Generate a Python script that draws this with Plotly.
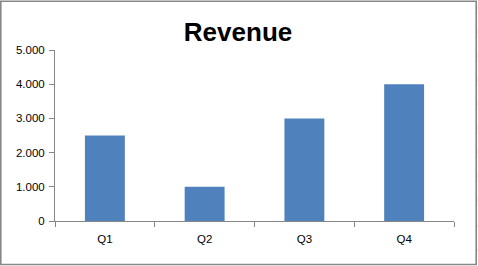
import plotly.graph_objects as go

categories = ["Q1", "Q2", "Q3", "Q4"]
revenue = [2500, 1000, 3000, 4000]
y_ticks = [0, 1000, 2000, 3000, 4000, 5000]

W, H = 478, 266
L, R, T, B = 55, 24, 50, 45
pw, ph = W - L - R, H - T - B

def px(x):
    return (x - L) / pw

def py(y):
    return (H - B - y) / ph

fig = go.Figure(go.Bar(
    x=categories, y=revenue, width=0.4,
    marker=dict(color="#4F81BD", line=dict(width=0)),
))

shapes = []
# outer chart border
shapes.append(dict(type="rect", xref="paper", yref="paper",
                   x0=px(0.8), x1=px(476.2), y0=py(264.5), y1=py(1.2),
                   line=dict(color="#878787", width=1.6), fillcolor="rgba(0,0,0,0)", layer="above"))
# faint spreadsheet gridlines peeking outside the border
for cx in [83, 187, 291, 395]:
    shapes.append(dict(type="line", xref="paper", yref="paper",
                       x0=px(cx), x1=px(cx), y0=py(0), y1=py(0.6),
                       line=dict(color="#D0D0D0", width=1)))
for ry in [8, 32, 56, 80, 104, 128, 152, 176, 200, 226, 250]:
    shapes.append(dict(type="line", xref="paper", yref="paper",
                       x0=px(477), x1=px(478), y0=py(ry), y1=py(ry),
                       line=dict(color="#D0D0D0", width=1)))

fig.update_layout(
    width=W, height=H,
    margin=dict(l=L, r=R, t=T, b=B),
    paper_bgcolor="white", plot_bgcolor="white",
    separators=",.",
    showlegend=False,
    bargap=0.6,
    title=dict(text="<b>Revenue</b>", x=0.498, xanchor="center", y=1 - 32 / H, yanchor="middle",
               font=dict(family="Liberation Sans", size=26, color="black")),
    font=dict(family="Liberation Sans", size=11.5, color="#000000"),
    xaxis=dict(
        type="category", showgrid=False, showline=True, linecolor="#868686", linewidth=1,
        ticks="outside", ticklen=5, tickcolor="#868686", tickson="boundaries",
        tickfont=dict(size=11.5, color="#000000"), zeroline=False, ticklabelstandoff=7,
    ),
    yaxis=dict(
        range=[0, 5000], tickvals=y_ticks, tickformat=",d",
        showgrid=False, showline=True, linecolor="#868686", linewidth=1,
        ticks="outside", ticklen=5, tickcolor="#868686",
        tickfont=dict(size=11.5, color="#000000"), zeroline=False, ticklabelstandoff=2,
    ),
    shapes=shapes,
)

fig.write_html("out.html")
